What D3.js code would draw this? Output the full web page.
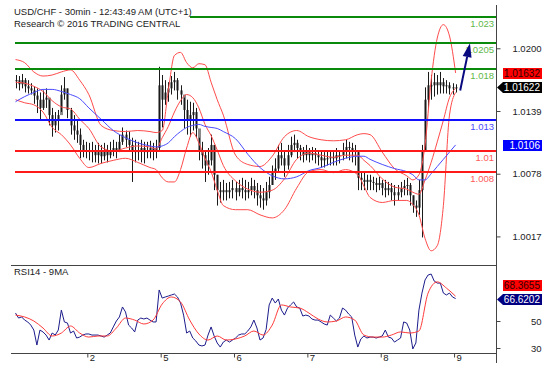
<!DOCTYPE html>
<html>
<head>
<meta charset="utf-8">
<script src="https://cdn.jsdelivr.net/npm/d3@7"></script>
<style>
  body { margin: 0; background: #fff; }
  text { font-family: "Liberation Sans", Arial, sans-serif; }
</style>
</head>
<body>
<div class="graph"></div>
<script>
const width = 560;
const height = 385;
const plot = {left: 11, right: 496, top: 5, split: 265, bottom: 353};

const title = 'USD/CHF - 30min - 12:43:49 AM (UTC+1)';
const subtitle = 'Research © 2016 TRADING CENTRAL';
const rsiTitle = 'RSI14 - 9MA';

// hourly bars, prices in pips (10162 = 1.0162)
const high = [
  10174,10173,10175,10171,10169,10166,10163,10161,10157,10159,
  10161,10150,10142,10138,10140,10164,10172,10161,10142,10135,
  10130,10122,10111,10109,10108,10109,10106,10108,10106,10108,
  10106,10109,10111,10109,10116,10123,10120,10119,10113,10111,
  10109,10111,10109,10109,10110,10108,10111,10182,10174,10169,
  10167,10173,10177,10171,10164,10152,10150,10148,10147,10142,
  10113,10109,10101,10103,10116,10106,10077,10070,10072,10069,
  10070,10072,10070,10072,10074,10072,10070,10074,10072,10069,
  10067,10064,10070,10075,10086,10093,10106,10108,10101,10106,
  10114,10116,10111,10106,10104,10106,10103,10104,10103,10101,
  10101,10099,10101,10101,10099,10103,10101,10108,10111,10109,
  10108,10106,10101,10080,10079,10077,10077,10075,10074,10075,
  10072,10072,10070,10069,10067,10067,10070,10072,10074,10069,
  10057,10052,10072,10106,10162,10177,10174,10176,10174,10177,
  10171,10169,10167,10166,10165];
const low = [
  10161,10159,10161,10157,10156,10155,10146,10137,10130,10140,
  10142,10125,10114,10118,10120,10138,10150,10132,10116,10111,
  10108,10093,10094,10093,10091,10089,10089,10088,10088,10091,
  10089,10093,10095,10093,10099,10106,10104,10101,10070,10089,
  10091,10089,10088,10093,10093,10091,10093,10101,10123,10145,
  10148,10155,10159,10150,10145,10122,10116,10114,10120,10113,
  10091,10083,10070,10077,10086,10062,10047,10050,10052,10052,
  10054,10054,10052,10056,10054,10052,10054,10057,10054,10047,
  10045,10043,10047,10054,10067,10072,10079,10086,10075,10082,
  10094,10099,10093,10091,10089,10091,10089,10091,10088,10086,
  10084,10084,10086,10086,10086,10086,10088,10091,10093,10091,
  10089,10086,10062,10062,10062,10062,10062,10062,10060,10062,
  10057,10055,10057,10052,10047,10052,10055,10057,10057,10047,
  10040,10036,10038,10016,10101,10142,10150,10153,10155,10156,
  10156,10156,10155,10155,10157];
const close = [
  10169,10165,10169,10163,10161,10159,10154,10150,10142,10150,
  10152,10135,10125,10130,10135,10155,10161,10140,10125,10120,
  10116,10106,10101,10101,10099,10101,10096,10099,10095,10101,
  10096,10101,10103,10101,10109,10116,10111,10106,10101,10099,
  10101,10103,10099,10101,10103,10101,10103,10164,10150,10157,
  10161,10167,10169,10159,10155,10140,10130,10135,10138,10122,
  10101,10096,10086,10091,10106,10077,10062,10060,10062,10060,
  10062,10064,10060,10064,10062,10060,10062,10066,10062,10057,
  10054,10052,10060,10067,10080,10083,10096,10093,10086,10096,
  10106,10108,10103,10099,10096,10099,10096,10098,10096,10094,
  10091,10093,10093,10094,10093,10096,10096,10101,10104,10103,
  10101,10099,10074,10072,10070,10072,10070,10069,10067,10069,
  10064,10062,10064,10060,10057,10060,10064,10066,10067,10057,
  10047,10045,10062,10101,10150,10164,10164,10167,10164,10167,
  10163,10164,10161,10162,10162];

// bollinger bands and moving average, read at these hours
const bandHours = [0,3,6,9,12,15,18,21,24,28,32,36,40,44,46,48,50,52,54,56,58,60,62,64,66,68,
  72,76,80,84,88,92,96,100,104,108,112,114,116,120,124,128,130,132,134,136,138,140,142,144];
const bbUpper = [10189,10186,10177,10173,10174,10177,10179,10169,10155,10125,10120,10119,10120,
  10119,10118,10120,10159,10193,10196,10186,10181,10185,10184,10167,10150,10135,10096,10087,
  10085,10095,10114,10120,10114,10111,10110,10111,10116,10117,10116,10099,10083,10076,10072,
  10077,10106,10169,10210,10223,10212,10176];
const bbMiddle = [10167,10166,10163,10158,10149,10143,10141,10131,10122,10104,10100,10103,10105,
  10104,10102,10113,10124,10138,10149,10155,10152,10142,10126,10115,10101,10086,10071,10063,
  10060,10062,10073,10092,10098,10096,10094,10096,10096,10091,10086,10073,10065,10063,10060,
  10058,10072,10089,10109,10130,10152,10161];
const bbLower = [10150,10147,10145,10138,10123,10116,10106,10093,10084,10088,10091,10093,10089,
  10084,10082,10074,10070,10070,10082,10103,10118,10108,10093,10080,10062,10047,10043,10043,
  10038,10035,10043,10064,10080,10082,10079,10082,10077,10066,10055,10050,10052,10052,10048,
  10038,10015,10003,10008,10047,10135,10157];
const maBlue = [10148,10153,10157,10160,10160,10158,10155,10151,10142,10131,10120,10113,10108,
  10105,10104,10105,10108,10114,10119,10123,10125,10126,10124,10123,10122,10119,10112,10097,
  10084,10076,10073,10075,10081,10084,10089,10093,10095,10095,10092,10087,10083,10080,10077,
  10072,10072,10078,10085,10092,10099,10106];

// RSI14, hourly
const rsi = [
  55.9,52.2,53,50.7,49.3,47,43.3,32.2,43.3,41.9,
  39.6,35.9,41.1,39.6,43.3,58.1,49.3,48.5,41.1,42.6,
  37.4,38.1,39.6,40.4,40.4,39.6,39.6,39.6,38.9,38.1,
  39.6,41.1,45.6,50,53,60.4,56.7,47,44.8,41.9,
  50.7,52.2,51.5,52.2,50.7,49.3,49.3,73,67,67.8,
  68.5,69.3,70,67.8,63.3,54.4,41.1,42.6,37.4,35.2,
  32.2,31.5,32.2,39.6,45.6,38.9,33.7,30.7,34.4,35.9,
  34.4,35.9,37.4,39.6,40.4,40.4,42.6,45.6,50.7,44.8,
  35.9,37.4,43.7,61.9,67,63.3,66.3,58.1,54.4,59.6,
  61.9,64.1,60.4,59.6,53.7,54.4,53.7,51.5,50.7,50.7,
  49.3,47.8,47,54.4,52.2,50,52.2,59.6,58.1,55.2,
  53,39.6,30.7,36.7,38.9,37.4,38.1,38.1,37.4,38.1,
  38.9,43.3,38.1,37.4,34.4,35.9,37.4,49.3,48.5,43.3,
  29.3,33.7,58.1,70.7,80.4,84.1,84.8,79.6,78.1,78.1,
  70.7,69.3,70.7,67.8,66.62];
// 9MA of RSI, every 3 hours
const rsiMa = [54.4,53,50,44.8,38.9,41.1,46.3,41.1,38.1,38.9,38.9,44.8,52.2,50.7,47.8,50.7,
  62.6,67.8,64.1,50.7,40.4,35.9,38.9,35.9,36.7,38.9,42.6,39.6,47,61.9,60.4,59.6,55.9,51.5,
  49.3,50,53,50.7,39.6,38.1,38.1,39.6,41.9,41.1,42.6,70.7,79,74.4,68.37];

const dayStarts = [24, 48, 72, 96, 120, 144];
const dayLabels = ['2', '5', '6', '7', '8', '9'];

const resistances = [1.023, 1.0205, 1.018];
const pivots = [1.013];
const supports = [1.01, 1.008];
const priceTicks = [1.0017, 1.0078, 1.0139, 1.0200];
const rsiTicks = [30, 50];

const forecastFrom = [145.5, 1.0159];
const forecastTo = [148.7, 1.0205];

const lastAsk = '1.01632';
const lastBid = '1.01622';
const lastMa = '1.0106';
const lastRsiMa = '68.3655';
const lastRsi = '66.6202';

const pip = v => v / 10000;

const draw_everything = () => {
  const svg = d3.select('.graph').append('svg')
    .attr('width', width)
    .attr('height', height)
    .style('display', 'block');

  const xScale = d3.scaleLinear().domain([0, 144]).range([15.5, 455.6]);
  const yPrice = d3.scaleLinear().domain([0.99892, 1.02421]).range([plot.split, plot.top]);
  const yRsi = d3.scaleLinear().domain([26.3, 91.5]).range([plot.bottom, plot.split]);

  const defs = svg.append('defs');
  defs.append('clipPath').attr('id', 'clipTop').append('rect')
    .attr('x', plot.left).attr('y', plot.top)
    .attr('width', plot.right - plot.left).attr('height', plot.split - plot.top);
  defs.append('clipPath').attr('id', 'clipRsi').append('rect')
    .attr('x', plot.left).attr('y', plot.split)
    .attr('width', plot.right - plot.left).attr('height', plot.bottom - plot.split);

  const top = svg.append('g').attr('clip-path', 'url(#clipTop)');

  // bars
  const bars = close.map((c, i) => ({i, o: i ? close[i - 1] : c, h: high[i], l: low[i], c}));
  top.append('g').selectAll('rect').data(bars).join('rect')
    .attr('x', d => Math.round(xScale(d.i)) - 1)
    .attr('width', 3)
    .attr('y', d => yPrice(pip(Math.max(d.o, d.c))))
    .attr('height', d => Math.max(1, Math.abs(yPrice(pip(d.o)) - yPrice(pip(d.c)))))
    .attr('fill', '#8a8a8a');
  top.append('g').selectAll('line').data(bars).join('line')
    .attr('x1', d => Math.round(xScale(d.i)) + 0.5)
    .attr('x2', d => Math.round(xScale(d.i)) + 0.5)
    .attr('y1', d => yPrice(pip(d.h)))
    .attr('y2', d => yPrice(pip(d.l)))
    .attr('stroke', '#1a1a1a')
    .attr('stroke-width', 1);

  // bands and MA
  const bandLine = d3.line()
    .x(d => xScale(d[0]))
    .y(d => yPrice(pip(d[1])))
    .curve(d3.curveMonotoneX);
  [[bbUpper, '#ff4a4a'], [bbMiddle, '#ff4a4a'], [bbLower, '#ff4a4a'], [maBlue, '#4a4aff']]
    .forEach(([vals, col]) => {
      top.append('path')
        .datum(bandHours.map((h, k) => [h, vals[k]]))
        .attr('d', bandLine)
        .attr('fill', 'none')
        .attr('stroke', col)
        .attr('stroke-width', 1);
    });

  // key levels
  const levels = [
    ...resistances.map(v => ({v, line: '#0a8a0a', txt: '#5fb84a'})),
    ...pivots.map(v => ({v, line: '#1010ff', txt: '#4b4bff'})),
    ...supports.map(v => ({v, line: '#ff1a1a', txt: '#ff5a5a'}))
  ];
  levels.forEach(d => {
    const yy = Math.round(yPrice(d.v));
    svg.append('line')
      .attr('x1', 15).attr('x2', plot.right)
      .attr('y1', yy).attr('y2', yy)
      .attr('stroke', d.line).attr('stroke-width', 2);
    svg.append('text')
      .attr('x', 494).attr('y', yy + 10)
      .attr('text-anchor', 'end')
      .attr('font-size', '9.5px')
      .attr('fill', d.txt)
      .text(String(d.v));
  });

  // forecast arrow
  const sx = xScale(forecastFrom[0]), sy = yPrice(forecastFrom[1]);
  const tx = xScale(forecastTo[0]), ty = yPrice(forecastTo[1]);
  const len = Math.hypot(tx - sx, ty - sy);
  const ux = (tx - sx) / len, uy = (ty - sy) / len;
  const bx = tx - 14 * ux, by = ty - 14 * uy;
  svg.append('line')
    .attr('x1', sx).attr('y1', sy).attr('x2', bx).attr('y2', by)
    .attr('stroke', '#0a0a80').attr('stroke-width', 2);
  svg.append('path')
    .attr('d', `M${tx},${ty}L${bx - 4.5 * uy},${by + 4.5 * ux}L${bx + 4.5 * uy},${by - 4.5 * ux}Z`)
    .attr('fill', '#0a0a80');

  // header
  svg.append('rect')
    .attr('x', plot.left).attr('y', plot.top)
    .attr('width', 179).attr('height', 25)
    .attr('fill', '#fff');
  svg.append('text').attr('x', 14).attr('y', 15)
    .attr('font-size', '9.5px').attr('fill', '#222').text(title);
  svg.append('text').attr('x', 14).attr('y', 27)
    .attr('font-size', '9.5px').attr('fill', '#222').text(subtitle);

  // RSI panel
  const low_ = svg.append('g').attr('clip-path', 'url(#clipRsi)');
  const rsiLine = d3.line()
    .x(d => xScale(d[0]))
    .y(d => yRsi(d[1]));
  low_.append('path')
    .datum(rsi.map((v, i) => [i, v]))
    .attr('d', rsiLine)
    .attr('fill', 'none').attr('stroke', '#1c1c8c').attr('stroke-width', 1);
  low_.append('path')
    .datum(rsiMa.map((v, k) => [k * 3, v]))
    .attr('d', rsiLine.curve(d3.curveMonotoneX))
    .attr('fill', 'none').attr('stroke', '#ff3a3a').attr('stroke-width', 1);

  svg.append('text').attr('x', 14).attr('y', 275)
    .attr('font-size', '9.5px').attr('fill', '#222').text(rsiTitle);

  // frame
  svg.append('line')
    .attr('x1', plot.left).attr('x2', plot.right)
    .attr('y1', plot.split + 0.5).attr('y2', plot.split + 0.5)
    .attr('stroke', '#444');
  svg.append('line')
    .attr('x1', plot.left).attr('x2', plot.right)
    .attr('y1', plot.bottom + 0.5).attr('y2', plot.bottom + 0.5)
    .attr('stroke', '#444');
  svg.append('line')
    .attr('x1', plot.right + 0.5).attr('x2', plot.right + 0.5)
    .attr('y1', plot.top).attr('y2', 363)
    .attr('stroke', '#444');

  // right axes
  const yAxis = d3.axisRight(yPrice)
    .tickValues(priceTicks)
    .tickSize(4)
    .tickFormat(d3.format('.4f'));
  const ga = svg.append('g')
    .attr('transform', `translate(${plot.right + 0.5}, 0)`)
    .call(yAxis);
  const rAxis = d3.axisRight(yRsi).tickValues(rsiTicks).tickSize(4);
  const gr = svg.append('g')
    .attr('transform', `translate(${plot.right + 0.5}, 0)`)
    .call(rAxis);
  [ga, gr].forEach(g => {
    g.select('.domain').remove();
    g.selectAll('line').attr('stroke', '#444');
    g.selectAll('text')
      .attr('x', 45)
      .attr('text-anchor', 'end')
      .attr('font-size', '9.5px')
      .attr('font-family', '"Liberation Sans", Arial, sans-serif')
      .attr('fill', '#222');
  });

  // x axis (days)
  const xAxis = d3.axisBottom(xScale)
    .tickValues(dayStarts.map(d => d - 0.5))
    .tickSize(4)
    .tickFormat((d, i) => dayLabels[i]);
  const gx = svg.append('g')
    .attr('transform', `translate(0, ${plot.bottom + 0.5})`)
    .call(xAxis);
  gx.select('.domain').remove();
  gx.selectAll('line').attr('stroke', '#444');
  gx.selectAll('text')
    .attr('x', 2).attr('y', 1)
    .attr('text-anchor', 'start')
    .attr('font-size', '9.5px')
    .attr('font-family', '"Liberation Sans", Arial, sans-serif')
    .attr('fill', '#222');

  // value tags on the right
  const tag = (cy, fill, color, label, pointer) => {
    const h = 5.5;
    const p = pointer
      ? `M497,${cy}L503,${cy - h}L542,${cy - h}L542,${cy + h}L503,${cy + h}Z`
      : `M503,${cy - h}L542,${cy - h}L542,${cy + h}L503,${cy + h}Z`;
    svg.append('path').attr('d', p).attr('fill', fill);
    svg.append('text')
      .attr('x', 540).attr('y', cy + 3.6)
      .attr('text-anchor', 'end')
      .attr('font-size', '10px')
      .attr('fill', color)
      .text(label);
  };
  const yBid = Math.round(yPrice(+lastBid)) + 0.5;
  tag(yBid - 14, '#ff0000', '#300000', lastAsk, false);
  tag(yBid, '#000000', '#ffffff', lastBid, true);
  tag(Math.round(yPrice(+lastMa)) + 0.5, '#0000ff', '#ffffff', lastMa, false);
  const yR = Math.round(yRsi(+lastRsi)) + 0.5;
  tag(yR - 14, '#ff0000', '#300000', lastRsiMa, false);
  tag(yR, '#000080', '#ffffff', lastRsi, true);
};

draw_everything();
</script>
</body>
</html>
